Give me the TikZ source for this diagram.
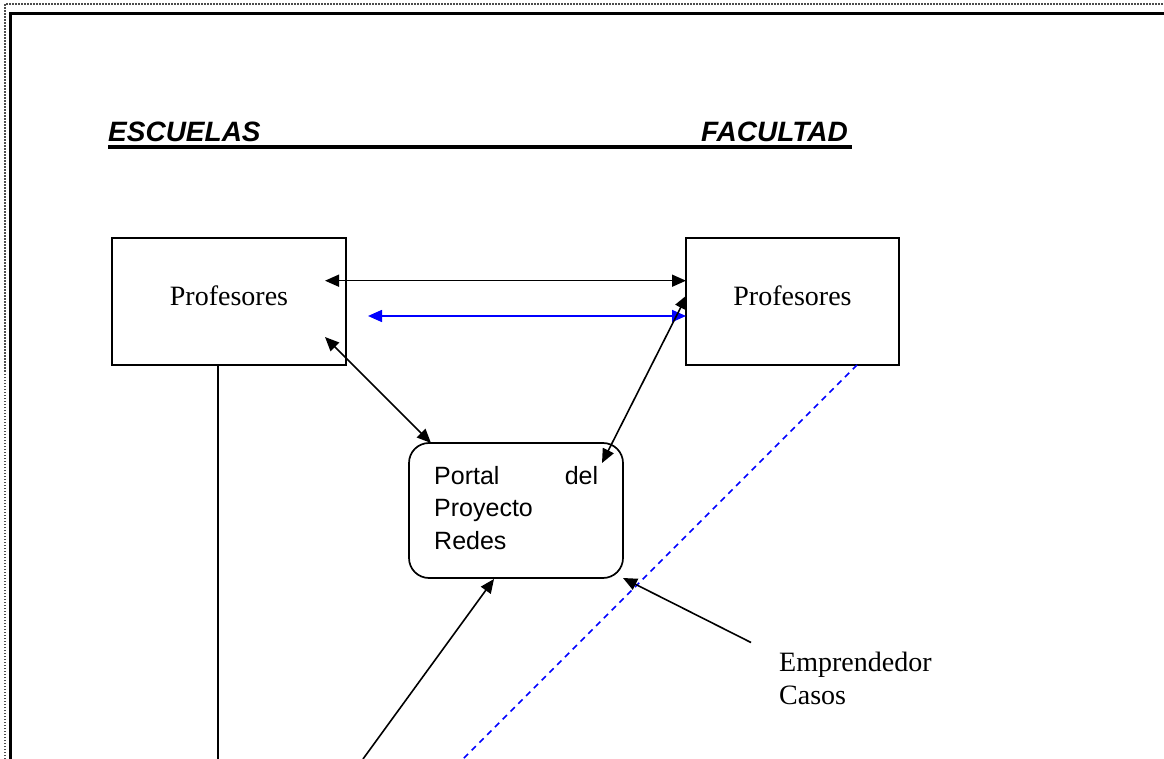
\documentclass[tikz,border=0pt]{standalone}
\usepackage{fontspec}
\setmainfont{Liberation Serif}
\newfontfamily\arialf{Liberation Sans}
\usetikzlibrary{arrows.meta}
\tikzset{
  x=1pt, y=-1pt,
  profbox/.style={draw, line width=1.7pt, inner sep=0pt, text height=18.4pt, text depth=10pt,
    font=\fontsize{28}{32}\selectfont},
  portalbox/.style={draw, line width=1.7pt, rounded corners=20pt, inner sep=0pt,
    minimum width=214pt, minimum height=135pt},
  conn/.style={line width=1.6pt, -{Triangle[length=14pt, width=12pt]}},
  dconn/.style={line width=1.6pt, {Triangle[length=14pt, width=12pt]}-{Triangle[length=14pt, width=12pt]}},
  titlef/.style={font=\arialf\bfseries\itshape\fontsize{28}{32}\selectfont, inner sep=0pt},
}
\definecolor{linkblue}{RGB}{0,0,255}
\begin{document}
\begin{tikzpicture}
\useasboundingbox (0,0) rectangle (1164,759);
% page frame
\coordinate (fdtl) at (5,4);
\coordinate (fdtr) at (1164,4);
\coordinate (fdbl) at (5,759);
\coordinate (ftl) at (10,14);
\coordinate (ftr) at (1164,14);
\coordinate (fbl) at (10,759);
\draw[gray!60!black, line width=1.5pt, dash pattern=on 1.5pt off 1.5pt] (fdbl) -- (fdtl) -- (fdtr);
\draw[line width=3pt] (fbl) -- (ftl) -- (ftr);

% titles
\node[titlef, anchor=base west] (esc) at (108,142) {ESCUELAS};
\node[titlef, anchor=base east] (fac) at (848,142) {FACULTAD};
\coordinate (ulA) at (108,147);
\coordinate (ulB) at (852,147);
\draw[line width=3.2pt] (ulA) -- (ulB);

% boxes
\node[profbox, minimum width=234pt, minimum height=127pt] (lp) at (229,301.5) {Profesores};
\node[profbox, minimum width=213pt, minimum height=127pt] (rp) at (792.5,301.5) {Profesores};
\node[portalbox] (portal) at (516,510.5) {};
\node[anchor=north west, inner sep=0pt, align=left,
      font=\arialf\fontsize{25}{32.5}\selectfont] (portaltxt) at (434,465.8)
  {\makebox[164pt][s]{Portal\hfill del}\\Proyecto\\Redes};

% connector end points
\coordinate (a1) at (325,280.7);
\coordinate (a2) at (686,280.7);
\coordinate (b1) at (368,316);
\coordinate (b2) at (686,316);
\coordinate (c1) at (325,337);
\coordinate (c2) at (431,443);
\coordinate (d1) at (687,295);
\coordinate (d2) at (602,463);
\coordinate (vb) at (218,759);
\coordinate (e1) at (363,759);
\coordinate (e2) at (494,579);
\coordinate (f1) at (857,365);
\coordinate (f2) at (463,759);
\coordinate (g1) at (751,642.5);
\coordinate (g2) at (623,578);

\draw[dconn] (a1) -- (a2);
\draw[dconn, linkblue] (b1) -- (b2);
\draw[dconn] (c1) -- (c2);
\draw[dconn] (d1) -- (d2);
\draw[line width=1.7pt] (vb |- lp.south) -- (vb);
\draw[conn] (e1) -- (e2);
\draw[linkblue, line width=1.6pt, dash pattern=on 6pt off 5pt] (f1) -- (f2);
\draw[conn] (g1) -- (g2);

\node[anchor=base west, inner sep=0pt, align=left, font=\fontsize{28}{32.3}\selectfont] (emp) at (779,704)
  {Emprendedor\\Casos};
\end{tikzpicture}
\end{document}
